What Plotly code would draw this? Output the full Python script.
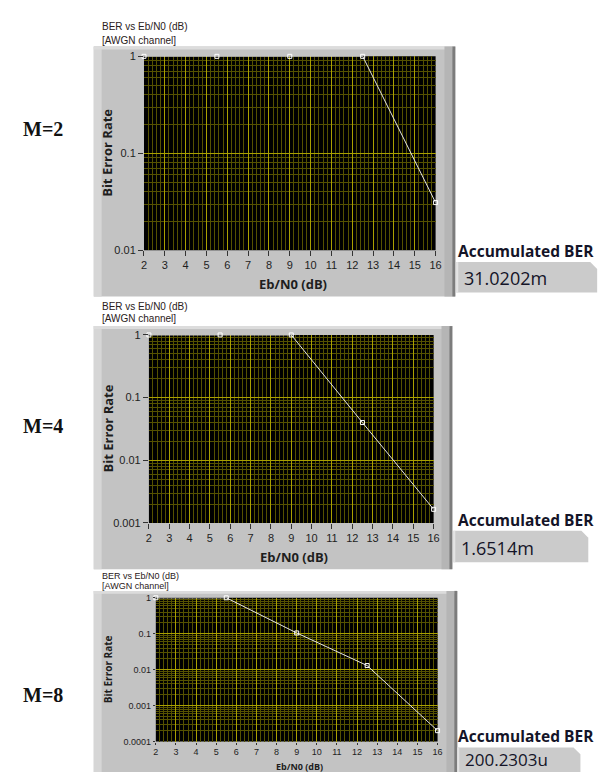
import plotly.graph_objects as go

# ---------------- data ----------------
ebn0 = [2, 5.5, 9, 12.5, 16]
ber_m2 = [1, 1, 1, 1, 0.0310202]
ber_m4 = [1, 1, 1, 0.04, 0.0016514]
ber_m8 = [1, 1, 0.105, 0.013, 0.0002002303]
series = [ber_m2, ber_m4, ber_m8]
mod_labels = ["M=2", "M=4", "M=8"]
acc_ber = ["31.0202m", "1.6514m", "200.2303u"]
x_ticks = list(range(2, 17))
y_tickvals = [[1, 0.1, 0.01],
              [1, 0.1, 0.01, 0.001],
              [1, 0.1, 0.01, 0.001, 0.0001]]
y_ticktext = [["1", "0.1", "0.01"],
              ["1", "0.1", "0.01", "0.001"],
              ["1", "0.1", "0.01", "0.001", "0.0001"]]
y_ranges = [[-2, 0], [-3, 0], [-4, 0]]

# ---------------- layout geometry (pixels) ----------------
W, H = 606, 772
def px(x): return x / W
def py(y): return 1 - y / H

panel_box = [(84, 33, 451, 287), (84, 317, 448, 564), (84, 586, 453, 772)]
plot_box = [(135, 43, 431, 240), (140, 326, 429, 517), (147, 593, 433, 739)]
title_y = [(13, 27), (297, 309), (571, 581)]
title_size = [10, 10, 9]
m_y = [117, 418, 692]
acc_label_y = [241, 514, 733]
acc_box = [(452, 252, 595, 283), (449, 525, 586, 557), (453, 745, 578, 772)]
acc_val_y = [268, 542, 757]
acc_val_size = [18, 18, 17]
xtitle_y = [274, 552, 764]
tick_size = [11, 11, 9]
tick_len = [5, 5, 2]
axtitle_size = [13, 13, 9]
ytitle_size = [13, 13, 10]

MAJOR = "#a9a000"
MINOR = "#555100"
TXT = "#1e1e1e"

fig = go.Figure()
shapes = []
ann = []

def rect(a, b, c, d, col):
    shapes.append(dict(type="rect", xref="paper", yref="paper", layer="below",
                       x0=px(a), x1=px(c), y0=py(d), y1=py(b),
                       fillcolor=col, line=dict(width=0)))

for i in range(3):
    n = "" if i == 0 else str(i + 1)
    xa, ya = "x" + n, "y" + n
    fig.add_trace(go.Scatter(
        x=ebn0, y=series[i], xaxis=xa, yaxis=ya, mode="lines+markers",
        line=dict(color="#e6e6e6", width=1),
        marker=dict(symbol="square-open", size=4, color="#ffffff", line=dict(width=1)),
        cliponaxis=False, showlegend=False, hoverinfo="x+y"))
    x0, y0, x1, y1 = plot_box[i]
    fig.layout["xaxis" + n] = dict(
        domain=[px(x0), px(x1)], anchor=ya, range=[2, 16],
        tickmode="array", tickvals=x_ticks, ticktext=[str(v) for v in x_ticks],
        ticks="outside", ticklen=tick_len[i], tickcolor="#333", tickwidth=1,
        showgrid=True, gridcolor=MAJOR, gridwidth=1, zeroline=False,
        minor=dict(dtick=0.2, showgrid=True, gridcolor=MINOR, gridwidth=1, ticks=""),
        tickfont=dict(family="Liberation Sans", size=tick_size[i], color=TXT),
        showline=False, fixedrange=True)
    fig.layout["yaxis" + n] = dict(
        domain=[py(y1), py(y0)], anchor=xa, type="log", range=y_ranges[i],
        tickmode="array", tickvals=y_tickvals[i], ticktext=y_ticktext[i],
        ticks="outside", ticklen=tick_len[i], tickcolor="#333", tickwidth=1,
        showgrid=True, gridcolor=MAJOR, gridwidth=1, zeroline=False,
        minor=dict(dtick="D1", showgrid=True, gridcolor=MINOR, gridwidth=1, ticks=""),
        tickfont=dict(family="Liberation Sans", size=tick_size[i], color=TXT),
        showline=False, fixedrange=True)

    # panel background
    bx0, by0, bx1, by1 = panel_box[i]
    rect(bx0, by0, bx1, by1, "#c3c3c3")
    rect(bx0, by0, bx0 + 8, by1, "#d6d6d6")
    rect(bx0, by0, bx1, by0 + 3, "#dcdcdc")
    rect(bx1 - 11, by0, bx1 - 3, by1, "#b5b5b5")
    rect(bx1 - 3, by0, bx1, by1, "#7c7c7c")
    # plot area (black) on top of panel
    rect(x0, y0, x1, y1, "#000000")

    # accumulated BER box with cut corner
    ax0, ay0, ax1, ay1 = acc_box[i]
    path = "M {a},{b} L {c},{b} L {d},{e} L {d},{f} L {a},{f} Z".format(
        a=px(ax0), b=py(ay0), c=px(ax1 - 7), d=px(ax1), e=py(ay0 + 7), f=py(ay1))
    shapes.append(dict(type="path", xref="paper", yref="paper", layer="below",
                       path=path, fillcolor="#cbcbcb", line=dict(width=0)))
    rect(ax0, ay0, ax0 + 2, ay1, "#e4e4e4")

    # texts
    ann.append(dict(text="BER vs Eb/N0 (dB)", x=px(90), y=py(title_y[i][0]),
                    xanchor="left", yanchor="middle",
                    font=dict(family="Liberation Sans", size=title_size[i], color="#2a2020")))
    ann.append(dict(text="[AWGN channel]", x=px(90), y=py(title_y[i][1]),
                    xanchor="left", yanchor="middle",
                    font=dict(family="Liberation Sans", size=title_size[i], color="#2a2020")))
    ann.append(dict(text="<b>" + mod_labels[i] + "</b>", x=px(32), y=py(m_y[i]),
                    xanchor="center", yanchor="middle",
                    font=dict(family="Liberation Serif", size=20, color="#111")))
    ann.append(dict(text="<b>Bit Error Rate</b>", x=px(98), y=py((y0 + y1) / 2),
                    textangle=-90, xanchor="center", yanchor="middle",
                    font=dict(family="Open Sans", size=ytitle_size[i], color=TXT)))
    ann.append(dict(text="<b>Eb/N0 (dB)</b>", x=px((x0 + x1) / 2 + 3), y=py(xtitle_y[i]),
                    xanchor="center", yanchor="middle",
                    font=dict(family="Open Sans", size=axtitle_size[i], color=TXT)))
    ann.append(dict(text="<b>Accumulated BER</b>", x=px(452), y=py(acc_label_y[i]),
                    xanchor="left", yanchor="middle",
                    font=dict(family="Open Sans", size=15.5, color="#141428")))
    ann.append(dict(text=acc_ber[i], x=px(ax0 + 6), y=py(acc_val_y[i]),
                    xanchor="left", yanchor="middle",
                    font=dict(family="Open Sans", size=acc_val_size[i], color="#141428")))

for a in ann:
    a.update(xref="paper", yref="paper", showarrow=False)

fig.update_layout(
    width=W, height=H, margin=dict(l=0, r=0, t=0, b=0),
    paper_bgcolor="white", plot_bgcolor="black",
    shapes=shapes, annotations=ann, showlegend=False)

fig.write_html("out.html")
